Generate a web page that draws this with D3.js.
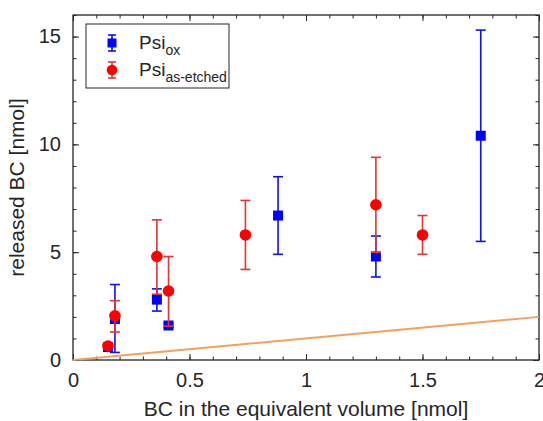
<!DOCTYPE html>
<html>
<head>
<meta charset="utf-8">
<script src="https://cdn.jsdelivr.net/npm/d3@7"></script>
<style>
  body { margin: 0; background: #fff; }
  text { font-family: "Liberation Sans", Arial, sans-serif; fill: #262626; }
</style>
</head>
<body>
<script>
// Psi_ox (blue squares)
const oxX  = [0.15, 0.18, 0.36, 0.41, 0.88, 1.30, 1.75];
const oxY  = [0.60, 1.90, 2.80, 1.60, 6.70, 4.80, 10.40];
const oxLo = [0.50, 0.35, 2.27, 1.50, 4.90, 3.85, 5.50];
const oxHi = [0.70, 3.50, 3.30, 1.70, 8.50, 5.75, 15.30];

// Psi_as-etched (red circles)
const asX  = [0.15, 0.18, 0.36, 0.41, 0.74, 1.30, 1.50];
const asY  = [0.65, 2.05, 4.80, 3.20, 5.80, 7.20, 5.80];
const asLo = [0.50, 1.30, 3.05, 1.57, 4.20, 5.00, 4.90];
const asHi = [0.80, 2.75, 6.50, 4.80, 7.40, 9.40, 6.70];

// reference line y = x
const refX = [0, 2];
const refY = [0, 2];

const xTicks = [0, 0.5, 1, 1.5, 2];
const xTickLabels = ['0', '0.5', '1', '1.5', '2'];
const yTicks = [0, 5, 10, 15];

const W = 543, H = 421;
const margin = {top: 15, right: 4, bottom: 61, left: 73};
const innerW = W - margin.left - margin.right;
const innerH = H - margin.top - margin.bottom;

const svg = d3.select('body').append('svg').attr('width', W).attr('height', H);
const g = svg.append('g').attr('transform', `translate(${margin.left},${margin.top})`);

const xScale = d3.scaleLinear().domain([0, 2]).range([0, innerW]);
const yScale = d3.scaleLinear().domain([0, 16]).range([innerH, 0]);

const axisCol = '#262626';

// minor ticks
const xMinor = d3.range(0, 2.0001, 0.1);
const yMinor = d3.range(0, 16.0001, 1);

function styleAxis(sel) {
  sel.select('.domain').remove();
  sel.selectAll('.tick line').attr('stroke', axisCol).attr('stroke-width', 1);
  sel.selectAll('.tick text').attr('font-size', '20px').attr('fill', axisCol);
}

// bottom axis (labels + major ticks inward)
const xAxisG = g.append('g').attr('transform', `translate(0,${innerH})`)
  .call(d3.axisBottom(xScale).tickValues(xTicks).tickFormat((d, i) => xTickLabels[i]).tickSizeInner(-6).tickSizeOuter(0).tickPadding(13));
styleAxis(xAxisG);
g.append('g').attr('transform', `translate(0,${innerH})`)
  .call(d3.axisBottom(xScale).tickValues(xMinor).tickFormat('').tickSizeInner(-3.5).tickSizeOuter(0))
  .call(styleAxis);
// top axis ticks
g.append('g').call(d3.axisTop(xScale).tickValues(xTicks).tickFormat('').tickSizeInner(-6).tickSizeOuter(0)).call(styleAxis);
g.append('g').call(d3.axisTop(xScale).tickValues(xMinor).tickFormat('').tickSizeInner(-3.5).tickSizeOuter(0)).call(styleAxis);

// left axis
const yAxisG = g.append('g')
  .call(d3.axisLeft(yScale).tickValues(yTicks).tickSizeInner(-6).tickSizeOuter(0).tickPadding(12));
styleAxis(yAxisG);
g.append('g').call(d3.axisLeft(yScale).tickValues(yMinor).tickFormat('').tickSizeInner(-3.5).tickSizeOuter(0)).call(styleAxis);
// right axis ticks
g.append('g').attr('transform', `translate(${innerW},0)`)
  .call(d3.axisRight(yScale).tickValues(yTicks).tickFormat('').tickSizeInner(-6).tickSizeOuter(0)).call(styleAxis);
g.append('g').attr('transform', `translate(${innerW},0)`)
  .call(d3.axisRight(yScale).tickValues(yMinor).tickFormat('').tickSizeInner(-3.5).tickSizeOuter(0)).call(styleAxis);

// box
g.append('rect').attr('width', innerW).attr('height', innerH)
  .attr('fill', 'none').attr('stroke', axisCol).attr('stroke-width', 1.3);

// axis labels
g.append('text').text('BC in the equivalent volume [nmol]')
  .attr('x', innerW / 2).attr('y', innerH + 56).attr('text-anchor', 'middle').attr('font-size', '21px');
g.append('text').text('released BC [nmol]')
  .attr('transform', `translate(${-49},${innerH / 2}) rotate(-90)`)
  .attr('text-anchor', 'middle').attr('font-size', '21px');

// reference line
const line = d3.line().x(d => xScale(d[0])).y(d => yScale(d[1]));
g.append('path').attr('d', line(refX.map((x, i) => [x, refY[i]])))
  .attr('stroke', '#f4a15f').attr('stroke-width', 2).attr('fill', 'none');

const cap = 5;
function drawSeries(xs, ys, lo, hi, color, barColor, shape) {
  const sg = g.append('g');
  xs.forEach((x, i) => {
    const px = xScale(x);
    sg.append('line').attr('x1', px).attr('x2', px).attr('y1', yScale(lo[i])).attr('y2', yScale(hi[i]))
      .attr('stroke', barColor).attr('stroke-width', 1.6);
    [lo[i], hi[i]].forEach(v => {
      sg.append('line').attr('x1', px - cap).attr('x2', px + cap).attr('y1', yScale(v)).attr('y2', yScale(v))
        .attr('stroke', barColor).attr('stroke-width', 1.6);
    });
  });
  xs.forEach((x, i) => {
    if (shape === 'square') {
      sg.append('rect').attr('x', xScale(x) - 5).attr('y', yScale(ys[i]) - 5)
        .attr('width', 10).attr('height', 10).attr('fill', color);
    } else {
      sg.append('circle').attr('cx', xScale(x)).attr('cy', yScale(ys[i])).attr('r', 5.8).attr('fill', color);
    }
  });
}
drawSeries(oxX, oxY, oxLo, oxHi, '#0000ff', '#1010f0', 'square');
drawSeries(asX, asY, asLo, asHi, '#ff0000', '#e23434', 'circle');

// legend
const lg = svg.append('g');
lg.append('rect').attr('x', 86).attr('y', 24).attr('width', 143).attr('height', 64)
  .attr('fill', '#fff').attr('stroke', axisCol).attr('stroke-width', 1);
const legendItems = [
  {sub: 'ox', color: '#0000ff', bar: '#1010f0', shape: 'square', y: 43},
  {sub: 'as-etched', color: '#ff0000', bar: '#e23434', shape: 'circle', y: 70}
];
legendItems.forEach(it => {
  const mx = 112;
  lg.append('line').attr('x1', mx).attr('x2', mx).attr('y1', it.y - 8).attr('y2', it.y + 8)
    .attr('stroke', it.bar).attr('stroke-width', 1.6);
  [it.y - 8, it.y + 8].forEach(v => lg.append('line').attr('x1', mx - 4).attr('x2', mx + 4)
    .attr('y1', v).attr('y2', v).attr('stroke', it.bar).attr('stroke-width', 1.6));
  if (it.shape === 'square') {
    lg.append('rect').attr('x', mx - 4.5).attr('y', it.y - 4.5).attr('width', 9).attr('height', 9).attr('fill', it.color);
  } else {
    lg.append('circle').attr('cx', mx).attr('cy', it.y).attr('r', 5.3).attr('fill', it.color);
  }
  const t = lg.append('text').attr('x', 139).attr('y', it.y + 6).attr('font-size', '19px');
  t.append('tspan').text('Psi');
  t.append('tspan').text(it.sub).attr('font-size', '14px').attr('dy', 6);
});
</script>
</body>
</html>
